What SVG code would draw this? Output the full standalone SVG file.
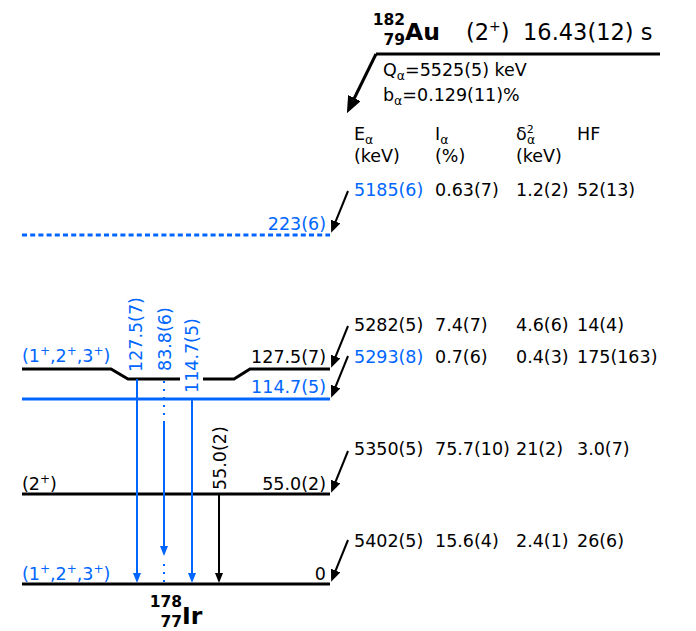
<svg xmlns="http://www.w3.org/2000/svg" width="696" height="631" viewBox="0 0 696 631">
<style>
text{font-family:"DejaVu Sans",sans-serif;font-size:17.5px;fill:#000}
.b{fill:#0066ff}
.r{text-anchor:end}
.iso{font-weight:bold;font-size:15.5px}
.el{font-weight:bold;font-size:23.5px}
.tt{font-size:22.5px}
.lv{stroke:#000;stroke-width:3;fill:none}
.lvb{stroke:#0066ff;stroke-width:3;fill:none}
.gb{stroke:#0066ff;stroke-width:2;fill:none}
.gk{stroke:#000;stroke-width:2;fill:none}
.fa{stroke:#000;stroke-width:2;fill:none}
</style>
<defs>
<marker id="hb" markerUnits="userSpaceOnUse" markerWidth="10" markerHeight="8" refX="6" refY="4" orient="auto"><path d="M0,0 L10,4 L0,8 z" fill="#0066ff"/></marker>
<marker id="hk" markerUnits="userSpaceOnUse" markerWidth="10" markerHeight="8" refX="6" refY="4" orient="auto"><path d="M0,0 L10,4 L0,8 z" fill="#000"/></marker>
<marker id="ha" markerUnits="userSpaceOnUse" markerWidth="12" markerHeight="10" refX="7" refY="5" orient="auto"><path d="M0,0 L12,5 L0,10 z" fill="#000"/></marker>
<marker id="hbig" markerUnits="userSpaceOnUse" markerWidth="17" markerHeight="14" refX="10" refY="7" orient="auto"><path d="M0,0 L17,7 L0,14 z" fill="#000"/></marker>
</defs>
<rect width="696" height="631" fill="#fff"/>

<g id="parent">
<text class="iso r" x="405" y="25">182</text>
<text class="iso r" x="405" y="45">79</text>
<text class="el" x="405" y="40">Au</text>
<text class="tt" x="466" y="40">(2<tspan dy="-9" font-size="14">+</tspan><tspan dy="9">)</tspan></text>
<text class="tt" x="523" y="40">16.43(12) s</text>
<line class="lv" x1="376" y1="54" x2="660" y2="54"/>
<text x="383" y="76">Q<tspan font-size="12.5" dy="4">α</tspan><tspan dy="-4">=5525(5) keV</tspan></text>
<text x="383" y="101">b<tspan font-size="12.5" dy="4">α</tspan><tspan dy="-4">=0.129(11)%</tspan></text>
</g>

<g id="headers">
<text x="354" y="140">E<tspan font-size="12.5" dy="4">α</tspan></text>
<text x="354" y="162">(keV)</text>
<text x="435" y="140">I<tspan font-size="12.5" dy="4">α</tspan></text>
<text x="435" y="162">(%)</text>
<text x="516" y="140">δ<tspan font-size="11" dy="-7">2</tspan><tspan x="527" font-size="12.5" dy="11">α</tspan></text>
<text x="516" y="162">(keV)</text>
<text x="577" y="140">HF</text>
</g>

<g id="row-5185">
<text class="b" x="354" y="196">5185(6)</text><text x="435" y="196">0.63(7)</text><text x="516" y="196">1.2(2)</text><text x="577" y="196">52(13)</text>
</g>
<g id="row-5282">
<text x="354" y="331">5282(5)</text><text x="435" y="331">7.4(7)</text><text x="516" y="331">4.6(6)</text><text x="577" y="331">14(4)</text>
</g>
<g id="row-5293">
<text class="b" x="354" y="363">5293(8)</text><text x="435" y="363">0.7(6)</text><text x="516" y="363">0.4(3)</text><text x="577" y="363">175(163)</text>
</g>
<g id="row-5350">
<text x="354" y="455">5350(5)</text><text x="435" y="455">75.7(10)</text><text x="516" y="455">21(2)</text><text x="577" y="455">3.0(7)</text>
</g>
<g id="row-5402">
<text x="354" y="547">5402(5)</text><text x="435" y="547">15.6(4)</text><text x="516" y="547">2.4(1)</text><text x="577" y="547">26(6)</text>
</g>

<g id="level-223">
<line class="lvb" x1="22" y1="235" x2="330" y2="235" stroke-dasharray="5 3.2"/>
<text class="b r" x="326" y="230">223(6)</text>
</g>
<g id="level-127">
<path class="lv" d="M22,369 L111,369 L128,379 L180,379 M203,379 L234,379 L250,369 L330,369"/>
<text class="b" x="22" y="362">(1<tspan dy="-7" font-size="12">+</tspan><tspan dy="7">,2</tspan><tspan dy="-7" font-size="12">+</tspan><tspan dy="7">,3</tspan><tspan dy="-7" font-size="12">+</tspan><tspan dy="7">)</tspan></text>
<text class="r" x="326" y="363">127.5(7)</text>
</g>
<g id="level-114">
<line class="lvb" x1="22" y1="399" x2="330" y2="399"/>
<text class="b r" x="326" y="393">114.7(5)</text>
</g>
<g id="level-55">
<line class="lv" x1="22" y1="494" x2="330" y2="494"/>
<text x="22" y="490">(2<tspan dy="-7" font-size="12">+</tspan><tspan dy="7">)</tspan></text>
<text class="r" x="326" y="490">55.0(2)</text>
</g>
<g id="level-0">
<line class="lv" x1="22" y1="584" x2="330" y2="584"/>
<text class="b" x="22" y="580">(1<tspan dy="-7" font-size="12">+</tspan><tspan dy="7">,2</tspan><tspan dy="-7" font-size="12">+</tspan><tspan dy="7">,3</tspan><tspan dy="-7" font-size="12">+</tspan><tspan dy="7">)</tspan></text>
<text class="r" x="326" y="580">0</text>
</g>
<g id="daughter">
<text class="iso r" x="182" y="607">178</text>
<text class="iso r" x="182" y="627">77</text>
<text class="el" x="182" y="624">Ir</text>
</g>

<g id="connectors">
<line class="lv" x1="376" y1="54" x2="350" y2="107" marker-end="url(#hbig)"/>
<line class="fa" x1="348" y1="191" x2="333" y2="228" marker-end="url(#ha)"/>
<line class="fa" x1="348" y1="326" x2="333" y2="363" marker-end="url(#ha)"/>
<line class="fa" x1="348" y1="356" x2="333" y2="393" marker-end="url(#ha)"/>
<line class="fa" x1="348" y1="451" x2="333" y2="488" marker-end="url(#ha)"/>
<line class="fa" x1="348" y1="540" x2="333" y2="577" marker-end="url(#ha)"/>

<line class="gb" x1="137" y1="379" x2="137" y2="579" marker-end="url(#hb)"/>
<text class="b" transform="translate(142,372) rotate(-90)">127.5(7)</text>
<line class="gb" x1="164" y1="381" x2="164" y2="422" stroke-dasharray="2 6"/>
<line class="gb" x1="164" y1="422" x2="164" y2="552" marker-end="url(#hb)"/>
<line class="gb" x1="164" y1="564" x2="164" y2="584" stroke-dasharray="2 6"/>
<text class="b" transform="translate(171,371) rotate(-90)">83.8(6)</text>
<line class="gb" x1="192" y1="399" x2="192" y2="579" marker-end="url(#hb)"/>
<text class="b" transform="translate(198,393) rotate(-90)">114.7(5)</text>
<line class="gk" x1="219" y1="494" x2="219" y2="579" marker-end="url(#hk)"/>
<text transform="translate(226,490) rotate(-90)">55.0(2)</text>
</g>
</svg>
